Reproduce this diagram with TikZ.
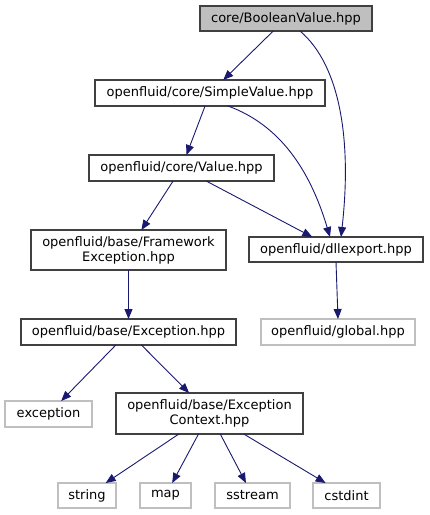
\documentclass[tikz,border=0pt]{standalone}
\usepackage{fontspec}
\setmainfont{DejaVu Sans}
\usetikzlibrary{arrows.meta}
\definecolor{edge}{HTML}{191970}
\definecolor{boxline}{HTML}{404040}
\definecolor{lightline}{HTML}{BFBFBF}
\definecolor{rootfill}{HTML}{BFBFBF}
\begin{document}
\begin{tikzpicture}[x=1bp,y=-1bp,
  every node/.style={font=\fontsize{13bp}{15bp}\selectfont, inner sep=0pt, outer sep=0pt, align=center, text=black},
  filebox/.style={draw=boxline, line width=1.2bp, fill=white},
  sysbox/.style={draw=lightline, line width=1.2bp, fill=white},
  rootbox/.style={draw=boxline, line width=1.2bp, fill=rootfill},
  dep/.style={draw=edge, line width=0.9bp, -{Triangle[length=10bp,width=8bp]}, fill=none}]
\useasboundingbox (0,0) rectangle (429,515);
\node[rootbox, minimum width=172bp, minimum height=25bp] (bool) at (286,18.5) {core/BooleanValue.hpp};
\node[filebox, minimum width=230bp, minimum height=26bp] (simple) at (210,93) {openfluid/core/SimpleValue.hpp};
\node[filebox, minimum width=185bp, minimum height=26bp] (value) at (181.5,168) {openfluid/core/Value.hpp};
\node[filebox, minimum width=195bp, minimum height=40bp] (fwk) at (128.5,250) {openfluid/base/Framework\\Exception.hpp};
\node[filebox, minimum width=174bp, minimum height=25bp] (dll) at (336,249.5) {openfluid/dllexport.hpp};
\node[filebox, minimum width=215bp, minimum height=26bp] (exc) at (128.5,332) {openfluid/base/Exception.hpp};
\node[sysbox, minimum width=154bp, minimum height=26bp] (global) at (338,332) {openfluid/global.hpp};
\node[sysbox, minimum width=87bp, minimum height=26bp] (exception) at (48.5,414) {exception};
\node[filebox, minimum width=187bp, minimum height=41bp] (ctx) at (209.5,413.5) {openfluid/base/Exception\\Context.hpp};
\node[sysbox, minimum width=58bp, minimum height=25bp] (string) at (87,495.5) {string};
\node[sysbox, minimum width=51bp, minimum height=25bp] (map) at (165.5,495.5) {map};
\node[sysbox, minimum width=75bp, minimum height=25bp] (sstream) at (252.5,495.5) {sstream};
\node[sysbox, minimum width=67bp, minimum height=25bp] (cstdint) at (346.5,495.5) {cstdint};

\draw[dep] (bool) -- (simple);
\draw[dep] ([xshift=14bp]bool.south) .. controls (340,65) and (352,140) .. ([xshift=5bp]dll.north);
\draw[dep] (simple) -- (value);
\draw[dep] ([xshift=18bp]simple.south) .. controls (280,125) and (310,170) .. ([xshift=-6bp]dll.north);
\draw[dep] (value) -- (fwk);
\draw[dep] (value) -- (dll);
\draw[dep] (fwk) -- (exc);
\draw[dep] (dll.south) -- (global.north);
\draw[dep] (exc) -- (exception);
\draw[dep] (exc) -- (ctx);
\draw[dep] (ctx) -- (string);
\draw[dep] (ctx) -- (map);
\draw[dep] (ctx) -- (sstream);
\draw[dep] (ctx) -- (cstdint);
\end{tikzpicture}
\end{document}
